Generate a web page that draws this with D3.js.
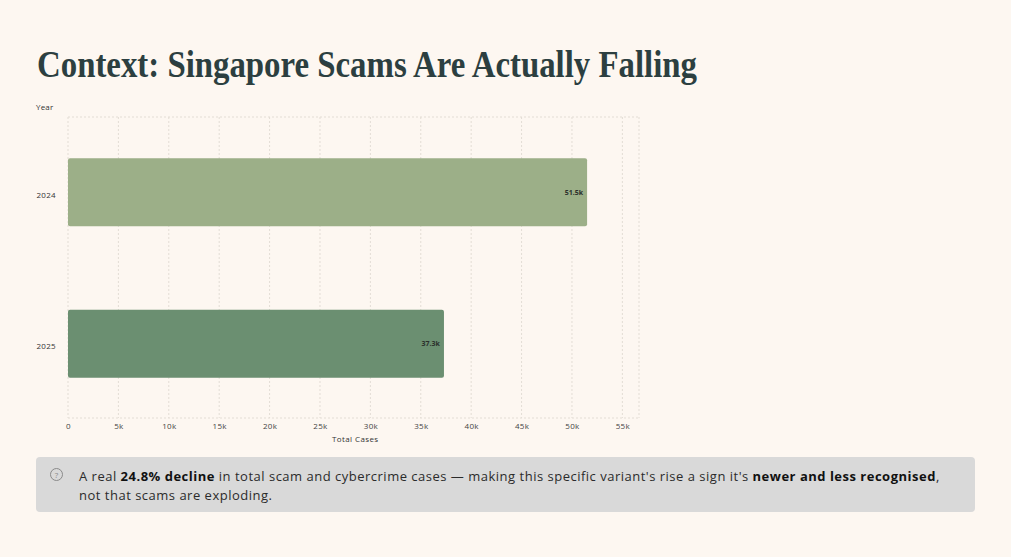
<!DOCTYPE html>
<html>
<head>
<meta charset="utf-8">
<script src="https://cdn.jsdelivr.net/npm/d3@7"></script>
<style>
  html, body { margin: 0; padding: 0; background: #fdf7f1; }
  body { width: 1011px; height: 557px; overflow: hidden; }
  .callout {
    position: absolute; left: 36px; top: 457px; width: 939px; height: 55px;
    background: #d9d9d9; border-radius: 4px; box-sizing: border-box;
    padding: 10px 20px 0 43px;
    font-family: "Open Sans", sans-serif; font-size: 13px; line-height: 19px;
    letter-spacing: 0.5px; color: #2b2b2b; white-space: nowrap;
  }
  .callout b { font-weight: 700; color: #111; }
  .callout .icon { position: absolute; left: 14px; top: 11px; width: 13px; height: 13px;
    border: 1px solid #8a8a8a; border-radius: 50%; box-sizing: border-box;
    font-size: 8px; line-height: 11px; text-align: center; color: #8a8a8a; letter-spacing: 0; }
</style>
</head>
<body>
<svg id="chart" width="1011" height="557" style="position:absolute;left:0;top:0"></svg>
<div class="callout"><div class="icon">?</div><span>A real </span><b>24.8% decline</b><span> in total scam and cybercrime cases — making this specific variant's rise a sign it's </span><b>newer and less recognised</b><span>,</span><br><span>not that scams are exploding.</span></div>
<script>
var years = ["2024", "2025"];
var cases = [51500, 37300];
var barColors = ["#9caf88", "#6b8f71"];
var xTicks = [0, 5000, 10000, 15000, 20000, 25000, 30000, 35000, 40000, 45000, 50000, 55000];

var svg = d3.select("#chart");

var margin = {left: 68, right: 372, top: 117, bottom: 139};
var width = 1011 - margin.left - margin.right;
var height = 557 - margin.top - margin.bottom;

var smallFont = "Open Sans, sans-serif";

// title
svg.append("text")
    .attr("x", 37)
    .attr("y", 77)
    .attr("font-family", "Liberation Serif, serif")
    .attr("font-weight", "bold")
    .attr("font-size", 37)
    .attr("fill", "#2c3f40")
    .attr("textLength", 660)
    .attr("lengthAdjust", "spacingAndGlyphs")
    .text("Context: Singapore Scams Are Actually Falling");

var g = svg.append("g")
    .attr("transform", "translate(" + margin.left + "," + margin.top + ")");

var x = d3.scaleLinear()
    .domain([0, d3.max(cases) * 1.1])
    .range([0, width]);

var y = d3.scaleBand()
    .domain(years)
    .range([0, height])
    .padding(0);

var gridColor = "#e3ddd5";

// grid
g.selectAll(".vgrid")
    .data(xTicks.concat([x.domain()[1]]))
    .enter()
    .append("line")
    .attr("x1", function (d) { return x(d); })
    .attr("x2", function (d) { return x(d); })
    .attr("y1", 0)
    .attr("y2", height)
    .attr("stroke", gridColor)
    .attr("stroke-dasharray", "2 2");

g.selectAll(".hgrid")
    .data([0, height])
    .enter()
    .append("line")
    .attr("x1", 0)
    .attr("x2", width)
    .attr("y1", function (d) { return d; })
    .attr("y2", function (d) { return d; })
    .attr("stroke", gridColor)
    .attr("stroke-dasharray", "2 2");

// bars
var barH = 68;

g.selectAll(".bar")
    .data(years)
    .enter()
    .append("rect")
    .attr("x", 0)
    .attr("y", function (d, i) { return y(d) + (y.bandwidth() - barH) / 2 + i; })
    .attr("width", function (d, i) { return x(cases[i]); })
    .attr("height", barH)
    .attr("rx", 2)
    .attr("fill", function (d, i) { return barColors[i]; });

g.selectAll(".val")
    .data(years)
    .enter()
    .append("text")
    .attr("x", function (d, i) { return x(cases[i]) - 4; })
    .attr("y", function (d, i) { return y(d) + y.bandwidth() / 2 + 2.5 + i; })
    .attr("text-anchor", "end")
    .attr("font-family", smallFont)
    .attr("font-size", 7)
    .attr("font-weight", 700)
    .attr("fill", "#2b2f2c")
    .text(function (d, i) { return d3.format(".1f")(cases[i] / 1000) + "k"; });

// x axis
var xAxis = d3.axisBottom(x)
    .tickValues(xTicks)
    .tickSize(0)
    .tickPadding(5)
    .tickFormat(function (d) { return d === 0 ? "0" : (d / 1000) + "k"; });

var xg = g.append("g")
    .attr("transform", "translate(0," + height + ")")
    .call(xAxis);
xg.select(".domain").remove();
xg.selectAll("text")
    .attr("font-family", smallFont)
    .attr("font-size", 8)
    .attr("letter-spacing", "0.3px")
    .attr("fill", "#444");

// y axis
var yAxis = d3.axisLeft(y).tickSize(0).tickPadding(12);
var yg = g.append("g").call(yAxis);
yg.select(".domain").remove();
yg.selectAll("text")
    .attr("font-family", smallFont)
    .attr("font-size", 8)
    .attr("letter-spacing", "0.3px")
    .attr("dy", function (d, i) { return (0.32 * 8 + 3 + i) + "px"; })
    .attr("fill", "#333");

// axis titles
svg.append("text")
    .attr("x", 36)
    .attr("y", 110)
    .attr("font-family", smallFont)
    .attr("font-size", 8)
    .attr("letter-spacing", "0.2px")
    .attr("fill", "#333")
    .text("Year");

svg.append("text")
    .attr("x", margin.left + x(28500))
    .attr("y", 442)
    .attr("text-anchor", "middle")
    .attr("font-family", smallFont)
    .attr("font-size", 8)
    .attr("letter-spacing", "0.4px")
    .attr("fill", "#333")
    .text("Total Cases");
</script>
</body>
</html>
